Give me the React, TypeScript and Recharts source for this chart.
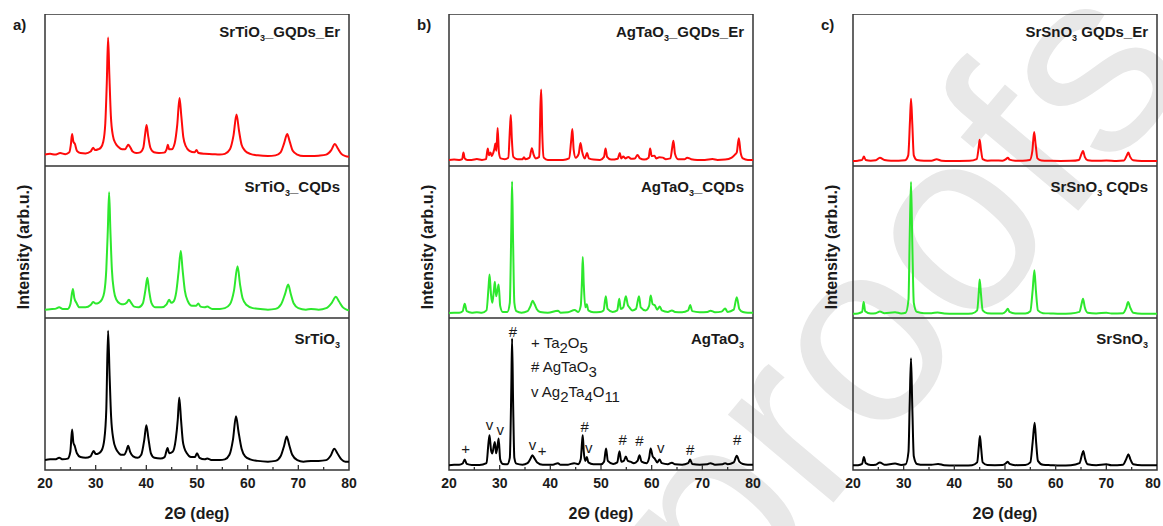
import { ComposedChart, Line, Scatter, XAxis, YAxis, ReferenceArea } from 'recharts';

type Pt = [number, number];

// tick positions shared by all panels
const xTicks = [20, 25, 30, 35, 40, 45, 50, 55, 60, 65, 70, 75, 80];

// a) SrTiO3 series (intensity as % of each stacked frame)
const srtioGqdsEr: Pt[] = [[20,7.5],[21,8],[22,7.5],[23,8.5],[24,7.8],[24.8,9],[25.1,14],[25.35,21],[25.6,16],[25.9,14.5],[26.3,10],[27,8.5],[28,8.3],[29,9.5],[29.5,12],[29.9,10.5],[30.5,11],[31,12],[31.5,16],[31.9,28],[32.2,55],[32.45,84.5],[32.7,60],[33,33],[33.4,20],[33.9,15],[34.5,12.5],[35.2,11],[35.8,11],[36.2,13],[36.45,14],[36.8,12.5],[37.3,9.5],[38,8.5],[38.8,9],[39.4,12],[39.8,22],[40.05,27],[40.35,20],[40.8,12],[41.5,9],[42.5,8.5],[43.5,8.8],[44,11],[44.25,14],[44.5,11],[45,11],[45.6,15],[46.1,27],[46.55,44.8],[46.9,33],[47.3,19],[47.8,13],[48.5,10],[49.5,9],[49.9,10.5],[50.3,8.5],[51.5,8],[53,7.8],[54.5,7.5],[55.5,8],[56.5,11],[57.2,20],[57.8,33.8],[58.3,23],[58.8,14],[59.5,10],[60.5,8],[62,7],[64,6.5],[65.5,7],[66.5,9],[67.2,15],[67.8,21],[68.3,16],[68.9,10],[69.8,7.5],[71,6.5],[72.5,6.5],[74,6.8],[75.5,7.5],[76.5,10.5],[77.2,14.5],[77.8,11.5],[78.5,8],[79.3,6.5],[80,6]];
const srtioCqds: Pt[] = [[20,5.5],[21,5.8],[22,6],[22.8,7],[23.5,6],[24.5,6],[25,9],[25.5,19],[25.8,13],[26.2,10],[26.8,7],[28,7],[29,8.5],[29.5,10.5],[30,9.5],[30.6,10],[31.2,12],[31.7,17],[32.1,32],[32.4,58],[32.65,82.8],[32.9,58],[33.2,32],[33.6,18],[34.1,12],[34.8,9.5],[35.5,9],[36.1,10],[36.55,12],[37,10],[37.6,7.5],[38.5,7],[39.3,9.5],[39.8,18],[40.2,26.5],[40.55,18],[41,10],[41.8,7],[43,7],[44,9],[44.5,12],[44.9,10],[45.4,11],[45.9,17],[46.35,30],[46.8,44],[47.15,32],[47.6,18],[48.2,11],[49,8],[49.8,8],[50.25,9.5],[50.7,7.5],[51.5,7],[52,7.5],[53,6],[54.5,6],[55.5,6.5],[56.5,9],[57.3,18],[58,34],[58.5,22],[59,13],[59.8,8.5],[61,6.5],[62.5,6],[64,5.5],[65.5,6],[66.6,9],[67.4,16],[68,22],[68.5,16],[69.1,9.5],[70,6.5],[71.5,5.5],[72.5,6],[74,5.5],[75.5,6.5],[76.6,10],[77.4,14],[78,11],[78.8,7],[79.5,5.5],[80,5]];
const srtio: Pt[] = [[20,6.5],[21,7],[22,7],[22.8,8],[23.5,7],[24.5,7.5],[25,12],[25.35,26.6],[25.6,18],[25.85,16],[26.3,11],[27,8.5],[28,8],[29,9],[29.6,12.5],[30,10.5],[30.6,11],[31.2,13],[31.7,20],[32.1,40],[32.45,91.6],[32.75,62],[33.05,35],[33.5,20],[34,14],[34.6,11],[35,10],[35.6,10],[36.1,13],[36.4,16],[36.8,12],[37.4,9],[38.3,8],[39,10],[39.6,20],[40,29.5],[40.4,21],[40.9,11],[41.6,8],[42.8,7.5],[43.6,8.5],[44.2,14.5],[44.5,11],[45.2,12],[45.8,20],[46.2,33],[46.5,47.7],[46.85,33],[47.2,19],[47.5,14.5],[48,11],[48.8,8.5],[49.6,8.5],[50,11],[50.5,8],[51.5,7],[52,7.5],[53,6.5],[54.5,6.5],[55.5,7],[56.4,10],[57.1,20],[57.7,35.4],[58.2,25],[58.8,14],[59.5,9],[60.5,7],[62,6],[64,5.5],[65.5,6],[66.5,9],[67.2,16],[67.7,22],[68.2,16.5],[68.8,10],[69.8,6.5],[71,5.5],[72.5,6],[74,6],[75.5,6.5],[76.4,9.5],[77.1,14],[77.7,11],[78.5,7],[79.3,5.5],[80,5.5]];

// b) AgTaO3 series
const agtaoGqdsEr: Pt[] = [[20,4],[21,4.2],[22,4],[22.6,4.5],[22.85,8.8],[23.1,5],[23.6,4],[24.5,4],[25.5,4.6],[26.5,4],[27.3,4.5],[27.65,11.5],[27.9,7],[28.2,8.8],[28.45,6.5],[28.75,8.8],[29.0,12],[29.15,14.8],[29.35,10],[29.6,25],[29.85,9],[30.2,5],[31,4.5],[31.7,5.5],[32.05,26],[32.2,33.6],[32.4,18],[32.7,6],[33.5,4.5],[34.5,4.5],[34.8,5.8],[35.1,4.5],[35.9,5.5],[36.35,11.7],[36.7,7.5],[37.1,5],[37.8,6],[38.05,40],[38.2,50.3],[38.4,22],[38.7,5.5],[39.5,4],[41,4],[42.5,4],[43.7,5],[44.15,18],[44.35,24.3],[44.6,11],[45,5.5],[45.6,8],[45.95,15.2],[46.3,9],[46.8,5],[47.25,8.5],[47.6,5],[48.5,4.2],[49.8,4],[50.6,6],[50.9,11.5],[51.2,6],[52,4.2],[53.3,4.8],[53.7,8.5],[54,5],[54.4,6.3],[54.8,5],[55.4,6],[55.9,4.8],[56.7,5],[57.2,7.3],[57.7,5],[58.5,4.2],[59.4,5.5],[59.7,11.5],[60.0,6.5],[60.55,6.8],[60.9,5],[61.5,5.8],[62.2,5.5],[62.8,4.5],[63.7,5],[64.05,12],[64.3,16.6],[64.6,8],[65.2,4.5],[66.5,4.5],[67,5.5],[67.8,4.5],[69,4],[70.5,4],[72,4.6],[73,4],[74.5,4.2],[75.8,5.5],[76.4,7.3],[76.8,9],[77.2,18.3],[77.55,9],[78,5],[79,4],[80,4]];
const agtaoCqds: Pt[] = [[20,3.3],[21,3.5],[22,3.5],[22.7,4.5],[23.1,9.3],[23.5,4.5],[24.5,3.5],[25.5,3.8],[26.5,3.5],[27.4,5],[27.8,20],[28.0,28.7],[28.3,15],[28.55,10],[28.85,18],[29.05,23.8],[29.3,14.3],[29.55,18],[29.8,22],[30.1,8],[30.6,4],[31.5,4],[32.0,10],[32.3,60],[32.45,89.8],[32.65,50],[32.9,10],[33.3,4.5],[34.3,3.5],[35.5,4.5],[36.1,8],[36.5,11.3],[36.9,9],[37.3,6],[38,4],[39.5,3.5],[41.5,4.8],[42,3.5],[43.5,3.8],[44.8,5.3],[45.5,4],[46.0,8],[46.25,25],[46.4,40.2],[46.6,22],[46.9,7],[47.2,9],[47.5,5],[48.5,3.8],[49.8,4],[50.5,5],[50.95,14.3],[51.3,6],[52.3,4],[53.2,5],[53.6,12.6],[53.9,6],[54.4,7],[54.9,14.3],[55.3,8.5],[55.6,7],[56.2,5],[56.9,6],[57.5,14.3],[57.85,7],[58.8,5],[59.5,8],[59.8,14.8],[60.2,9],[60.6,8.5],[61.1,5.5],[61.6,7.6],[62,5],[63.2,4],[64,5],[64.6,4],[66,3.8],[67.2,5],[67.6,8.6],[68,4.5],[69.5,3.8],[71,4],[71.6,4.8],[72.5,3.8],[73.8,4.2],[74.5,6.2],[75,4],[76.2,5.5],[76.8,13.7],[77.3,6],[78,4],[79,3.5],[80,3.5]];
const agtao: Pt[] = [[20,3.2],[21,3.5],[22,3.5],[22.7,4.3],[23.1,6.9],[23.5,4],[24.5,3.3],[26,3.3],[27.4,4.5],[27.8,18],[28.0,22.9],[28.3,13],[28.55,10.9],[28.85,16],[29.05,18.5],[29.3,11],[29.55,15],[29.8,20.7],[30.1,7],[30.6,4],[31.5,3.8],[32.0,8],[32.3,55],[32.45,86.5],[32.65,45],[32.9,8],[33.3,4.2],[34.5,3.5],[35.5,4.5],[36.1,7.5],[36.45,9.7],[36.9,7.5],[37.4,5],[38.5,3.5],[40.5,3.5],[41.5,4.5],[42,3.5],[43.5,3.5],[44.7,4.5],[45.5,3.8],[46.0,7],[46.25,18],[46.4,22.9],[46.6,12],[46.9,6],[47.2,8.6],[47.5,5],[48.5,3.8],[50,3.8],[50.6,5.5],[51,14.1],[51.35,6],[52.4,4],[53.2,5],[53.65,12.4],[54,5.5],[54.5,6],[54.9,8.8],[55.3,6],[55.8,5.5],[56.5,4.5],[57.2,6],[57.6,9.7],[58,5.5],[59,4.5],[59.5,8],[59.8,14.1],[60.2,9],[60.6,7.5],[61.1,5],[61.55,6.9],[62,4.5],[63.2,3.8],[64,4.8],[64.6,3.8],[66,3.5],[67.2,4.5],[67.6,6.9],[68,4],[69.5,3.5],[71,3.8],[71.6,4.5],[72.5,3.5],[74,3.8],[74.5,4.5],[75,3.8],[76.2,5],[76.8,9.4],[77.3,5.5],[78,4],[79,3.5],[80,3.5]];

// phase markers over the AgTaO3 pattern
const agtaoMarks = [
  { x: 32.6, y: 91, s: '#' }, { x: 23.3, y: 14, s: '+' }, { x: 28.0, y: 29.5, s: 'v' },
  { x: 30.1, y: 26.2, s: 'v' }, { x: 36.5, y: 16.3, s: 'v' }, { x: 38.4, y: 12.4, s: '+' },
  { x: 46.8, y: 28.4, s: '#' }, { x: 47.6, y: 14.6, s: 'v' }, { x: 54.3, y: 19.6, s: '#' },
  { x: 57.6, y: 18.9, s: '#' }, { x: 61.8, y: 14.8, s: 'v' }, { x: 67.6, y: 13, s: '#' },
  { x: 76.9, y: 19.6, s: '#' },
];

// c) SrSnO3 series
const srsnoGqdsEr: Pt[] = [[20,3.3],[21,3.5],[21.8,4],[22.15,6.2],[22.5,4],[23.5,3.5],[24.5,3.8],[25.3,5.5],[26.2,4],[27.5,3.5],[29,3.5],[30.3,3.8],[30.9,7],[31.25,30],[31.45,44.2],[31.7,28],[32.0,7],[32.6,4],[34,3.5],[35.5,3.5],[36.5,4.4],[37.5,3.5],[39,3.3],[41,3.3],[43,3.4],[44.4,4.5],[44.8,12],[45.0,17.2],[45.25,11],[45.6,4.5],[46.5,3.5],[48,3.6],[49.5,3.5],[50.2,4.5],[50.55,5.5],[50.9,4.2],[52,3.5],[53.5,3.5],[54.9,4],[55.4,10],[55.75,22.3],[56.05,14],[56.4,5],[57.2,3.6],[59,3.4],[61,3.3],[63,3.4],[64.6,4],[65.1,8],[65.4,9.9],[65.75,6],[66.3,3.8],[68,3.4],[70,3.6],[72,3.3],[73.5,3.6],[74.05,7],[74.35,8.8],[74.7,6],[75.3,3.8],[77,3.3],[80,3.3]];
const srsnoCqds: Pt[] = [[20,2.8],[21,3],[21.8,4],[22.1,10.5],[22.4,4.5],[23.5,3],[24.5,3.2],[25.3,4.2],[26.2,3.2],[28.3,3.8],[29.5,3],[30.4,3.5],[30.95,12],[31.2,55],[31.45,89.5],[31.7,50],[32.0,10],[32.6,4],[34,3.2],[35.5,3.2],[36.7,3.6],[38,3],[40,2.8],[42,2.8],[43.5,3],[44.5,5],[44.85,18],[45.0,25.4],[45.25,16],[45.6,5],[46.5,3.2],[48,3],[49.5,3],[50.2,4.5],[50.55,6.1],[50.9,4],[52,3],[54,3],[55,4.5],[55.45,18],[55.8,31.4],[56.1,18],[56.5,5],[57.5,3.2],[59,3],[61,2.8],[63,3],[64.7,4],[65.1,9],[65.4,12.7],[65.75,7],[66.3,3.5],[68,3],[70,3.5],[71,2.9],[73.3,3.2],[73.9,6.5],[74.3,10.5],[74.7,7],[75.3,3.5],[77,2.8],[80,2.8]];
const srsno: Pt[] = [[20,3.1],[21,3.2],[21.8,4],[22.15,8.6],[22.5,4.5],[23.5,3.3],[24.5,3.5],[25.3,5],[26.2,3.5],[28.3,4.2],[29.5,3.3],[30.4,3.8],[30.95,12],[31.2,45],[31.45,73.5],[31.7,42],[32.0,9],[32.6,4],[34,3.4],[35.5,3.4],[36.8,4],[38,3.2],[40,3],[42,3],[43.5,3.2],[44.5,5],[44.85,16],[45.05,22.4],[45.3,14],[45.6,5],[46.5,3.3],[48,3.2],[49.5,3.3],[50.2,4.5],[50.55,5.5],[50.9,4],[52,3.2],[54,3.3],[55,5],[55.45,18],[55.85,31.1],[56.15,18],[56.5,6],[57.5,3.4],[59,3.2],[61,3],[63,3.2],[64.7,4.5],[65.15,9.5],[65.45,12.5],[65.8,7.5],[66.3,3.8],[68,3.2],[70,3.8],[71,3.1],[73.3,3.5],[73.9,7],[74.35,10.3],[74.75,7],[75.3,3.8],[77,3.1],[80,3.1]];

const RED = '#ff0a0a';
const GREEN = '#2de82d';
const BLACK = '#000000';
const FRAME = '#333333';
const FONT = 'Arial, "Liberation Sans", sans-serif';

const FRAME_W = 304;
const ROW_H = 152;
const TOPS = [14, 166, 318];
const PAD = 12;

const panels = [
  { left: 45, letter: 'a)', base: 'SrTiO', sep: '_', series: [srtioGqdsEr, srtioCqds, srtio], minor: [true, true, true] },
  { left: 449, letter: 'b)', base: 'AgTaO', sep: '_', series: [agtaoGqdsEr, agtaoCqds, agtao], minor: [false, true, true] },
  { left: 853, letter: 'c)', base: 'SrSnO', sep: ' ', series: [srsnoGqdsEr, srsnoCqds, srsno], minor: [true, true, true] },
];
const suffixes = ['GQDs_Er', 'CQDs', ''];
const labelCenters = [32, 187, 339];
const colors = [RED, GREEN, BLACK];

const rows = (pts: Pt[]) => pts.map(([x, y]) => ({ x, y }));

const TickMark = (props: any) => {
  const { x, y, payload, showLabel, showMinor, lastShift } = props;
  const v = payload.value;
  const major = v % 10 === 0;
  if (!major && !showMinor) return <g />;
  const tx = v === 80 ? x - (lastShift || 0) : x;
  return (
    <g>
      {v > 20 && v < 80 && (
        <line x1={x} x2={x} y1={y} y2={y - (major ? 5 : 3)} stroke={FRAME} strokeWidth={1.3} />
      )}
      {showLabel && major && (
        <text x={tx} y={y + 18} textAnchor="middle" fontFamily={FONT} fontWeight="bold" fontSize={14} fill="#1a1a1a">
          {v}
        </text>
      )}
    </g>
  );
};

const MarkGlyph = (props: any) => {
  const { cx, cy, payload } = props;
  return (
    <text x={cx} y={cy + 5} textAnchor="middle" fontFamily={FONT} fontSize={15} fill="#1a1a1a">
      {payload.s}
    </text>
  );
};

function Row({ left, top, pts, color, bottom, minor, marks, lastShift }: any) {
  const h = bottom ? ROW_H + 30 : ROW_H;
  return (
    <div style={{ position: 'absolute', left: left - PAD, top }}>
      <ComposedChart width={FRAME_W + 2 * PAD} height={h} margin={{ top: 0, right: PAD, bottom: 0, left: PAD }}>
        <XAxis
          dataKey="x"
          type="number"
          domain={[20, 80]}
          allowDataOverflow
          ticks={xTicks}
          interval={0}
          height={bottom ? 30 : 0}
          axisLine={false}
          tickLine={false}
          tickSize={0}
          tickMargin={0}
          tick={<TickMark showLabel={bottom} showMinor={minor} lastShift={lastShift} />}
        />
        <YAxis hide width={0} type="number" domain={[0, 100]} allowDataOverflow />
        <ReferenceArea x1={20} x2={80} y1={0} y2={100} fill="none" fillOpacity={0} stroke={FRAME} strokeWidth={1.5} />
        <Line
          data={rows(pts)}
          dataKey="y"
          type="monotone"
          stroke={color}
          strokeWidth={2}
          dot={false}
          isAnimationActive={false}
        />
        {marks && <Scatter data={marks} dataKey="y" shape={<MarkGlyph />} isAnimationActive={false} />}
      </ComposedChart>
    </div>
  );
}

export default function App() {
  return (
    <div style={{ position: 'absolute', left: 0, top: 0, width: 1163, height: 526, background: '#fff', overflow: 'hidden' }}>
      <svg width={1163} height={526} style={{ position: 'absolute', left: 0, top: 0 }}>
        <text x={729} y={627} fontSize={260} fill="#e8e8e8" fontFamily={FONT} transform="rotate(-50 729 627)">
          proofs
        </text>
      </svg>

      {panels.map((p, pi) =>
        p.series.map((pts, ri) => (
          <Row
            key={`${pi}-${ri}`}
            left={p.left}
            top={TOPS[ri]}
            pts={pts}
            color={colors[ri]}
            bottom={ri === 2}
            minor={p.minor[ri]}
            lastShift={pi === 2 ? 4 : 0}
            marks={pi === 1 && ri === 2 ? agtaoMarks : null}
          />
        ))
      )}

      <svg width={1163} height={526} style={{ position: 'absolute', left: 0, top: 0, pointerEvents: 'none' }}>
        {panels.map((p, pi) => (
          <g key={pi} fontFamily={FONT} fill="#1a1a1a">
            <text x={p.left - 32} y={30} fontSize={15} fontWeight="bold">{p.letter}</text>
            <text
              x={p.left - 22}
              y={247}
              fontSize={16}
              fontWeight="bold"
              textAnchor="middle"
              dominantBaseline="central"
              transform={`rotate(-90 ${p.left - 22} 247)`}
            >
              Intensity (arb.u.)
            </text>
            <text x={p.left + FRAME_W / 2} y={519} fontSize={16} fontWeight="bold" textAnchor="middle">
              2Θ (deg)
            </text>
            {suffixes.map((s, ri) => (
              <text key={ri} x={p.left + FRAME_W - 9} y={labelCenters[ri] + 5} fontSize={15} fontWeight="bold" textAnchor="end">
                {p.base}
                <tspan fontSize={9} dy={4}>3</tspan>
                <tspan dy={-4}>{s ? p.sep + s : ''}</tspan>
              </text>
            ))}
          </g>
        ))}
        <g fontFamily={FONT} fontSize={15} fill="#1a1a1a">
          <text x={531} y={348}>
            + Ta<tspan dy={5}>2</tspan><tspan dy={-5}>O</tspan><tspan dy={5}>5</tspan>
          </text>
          <text x={531} y={372}>
            # AgTaO<tspan dy={5}>3</tspan>
          </text>
          <text x={531} y={397}>
            v Ag<tspan dy={5}>2</tspan><tspan dy={-5}>Ta</tspan><tspan dy={5}>4</tspan><tspan dy={-5}>O</tspan><tspan dy={5}>11</tspan>
          </text>
        </g>
      </svg>
    </div>
  );
}
